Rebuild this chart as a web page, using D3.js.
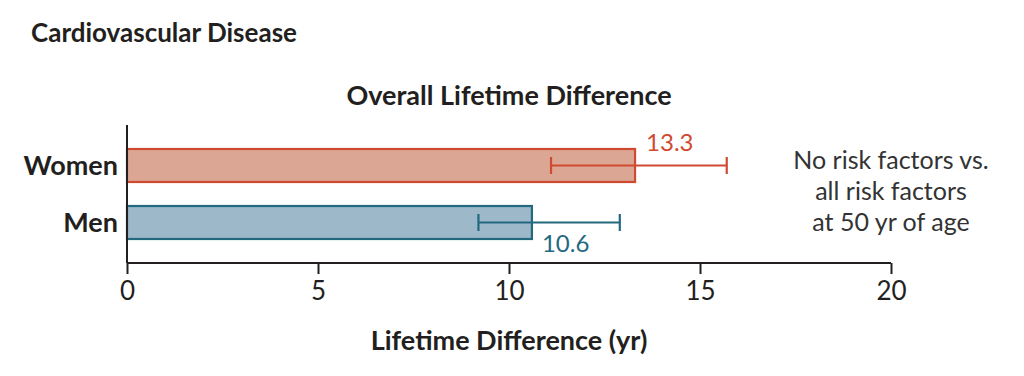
<!DOCTYPE html>
<html><head><meta charset="utf-8">
<script src="https://cdn.jsdelivr.net/npm/d3@7"></script>
<style>body{margin:0;background:#fff}svg{display:block}text{font-family:Lato,"Open Sans",sans-serif;fill:#231f20}</style>
</head><body><svg id="c" width="1024" height="376"></svg>
<script>
const categories = ["Women", "Men"];
const values = [13.3, 10.6];
const errLow = [11.1, 9.2];
const errHigh = [15.7, 12.9];
const strokeColors = ["#cf4a30", "#22687f"];
const fillColors = ["#dca694", "#9db8c9"];
const xTicks = [0, 5, 10, 15, 20];
const noteLines = ["No risk factors vs.", "all risk factors", "at 50 yr of age"];

const svg = d3.select("#c");
const x = d3.scaleLinear().domain([0, 20]).range([127, 891]);
const y = d3.scaleBand().domain(categories).range([131.9, 256.1]).paddingInner(0.421).paddingOuter(0.3);

svg.append("text").attr("x", 31).attr("y", 42).attr("font-size", 26).attr("font-weight", 700).text("Cardiovascular Disease");
svg.append("text").attr("x", 509).attr("y", 105).attr("text-anchor", "middle").attr("font-size", 27).attr("font-weight", 700).text("Overall Lifetime Difference");

// bars
svg.selectAll("rect.bar").data(categories).join("rect")
  .attr("x", x(0)).attr("y", d => y(d)).attr("width", (d,i) => x(values[i]) - x(0)).attr("height", y.bandwidth())
  .attr("fill", (d,i) => fillColors[i]).attr("stroke", (d,i) => strokeColors[i]).attr("stroke-width", 2.2);

// error bars
const eb = svg.selectAll("g.err").data(categories).join("g").attr("stroke", (d,i) => strokeColors[i]).attr("stroke-width", 2.2);
eb.append("line").attr("x1", (d,i) => x(errLow[i])).attr("x2", (d,i) => x(errHigh[i])).attr("y1", d => y(d) + y.bandwidth()/2).attr("y2", d => y(d) + y.bandwidth()/2);
eb.append("line").attr("x1", (d,i) => x(errLow[i])).attr("x2", (d,i) => x(errLow[i])).attr("y1", d => y(d) + y.bandwidth()/2 - 8.5).attr("y2", d => y(d) + y.bandwidth()/2 + 8.5);
eb.append("line").attr("x1", (d,i) => x(errHigh[i])).attr("x2", (d,i) => x(errHigh[i])).attr("y1", d => y(d) + y.bandwidth()/2 - 8.5).attr("y2", d => y(d) + y.bandwidth()/2 + 8.5);

// value labels
svg.append("text").attr("x", x(values[0]) + 11).attr("y", y("Women") + 2).attr("font-size", 24).style("fill", strokeColors[0]).text(values[0].toFixed(1));
svg.append("text").attr("x", x(values[1]) + 10).attr("y", y("Men") + y.bandwidth() + 13).attr("font-size", 24).style("fill", strokeColors[1]).text(values[1].toFixed(1));

// category labels
svg.selectAll("text.cat").data(categories).join("text").attr("class", "cat")
  .attr("x", 118).attr("y", d => y(d) + y.bandwidth()/2 + 9.5).attr("text-anchor", "end")
  .attr("font-size", 27).attr("font-weight", 700).text(d => d);

// y axis line
svg.append("line").attr("x1", x(0)).attr("x2", x(0)).attr("y1", 125).attr("y2", 263).attr("stroke", "#231f20").attr("stroke-width", 2);

// x axis
const xa = svg.append("g").attr("transform", "translate(0,263)")
  .call(d3.axisBottom(x).tickValues(xTicks).tickSize(11).tickPadding(8).tickFormat(d3.format("d")));
xa.select(".domain").attr("stroke", "#231f20").attr("stroke-width", 2).attr("d", `M${x(0)},0H${x(20)}`);
xa.selectAll(".tick line").attr("stroke", "#231f20").attr("stroke-width", 2);
xa.selectAll(".tick text").attr("font-size", 26).attr("font-family", "'Liberation Sans Narrow','Open Sans',sans-serif").style("fill", "#231f20");

svg.append("text").attr("x", 509).attr("y", 350).attr("text-anchor", "middle").attr("font-size", 27).attr("font-weight", 700).text("Lifetime Difference (yr)");

svg.selectAll("text.note").data(noteLines).join("text").attr("class", "note")
  .attr("x", 891).attr("y", (d,i) => 169 + i*31).attr("text-anchor", "middle").attr("font-size", 25).style("fill", "#333").text(d => d);
</script></body></html>
